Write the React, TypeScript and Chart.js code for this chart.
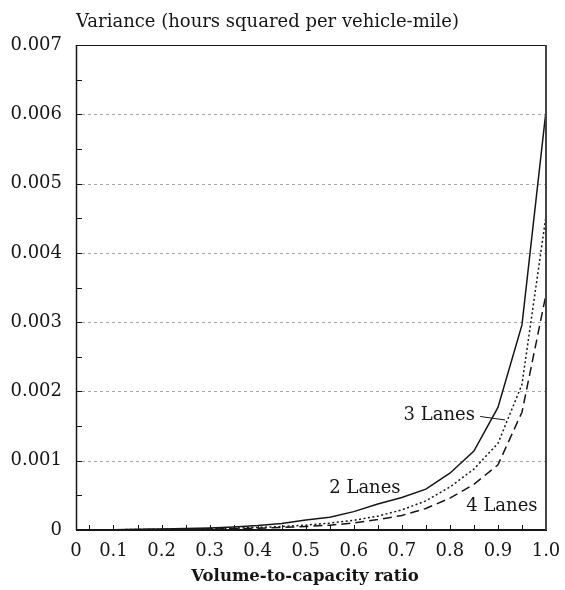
import React, { useEffect, useRef } from 'react';
import { Chart, registerables } from 'chart.js';

Chart.register(...registerables);

// ---- data ----
const vcRatio = [0.05, 0.1, 0.15, 0.2, 0.25, 0.3, 0.35, 0.4, 0.45, 0.5, 0.55, 0.6, 0.65, 0.7, 0.75, 0.8, 0.85, 0.9, 0.95, 1.0];
const lanes3 = [0.000003, 0.000005, 0.00001, 0.000015, 0.00002, 0.00003, 0.000045, 0.000065, 0.000094, 0.000145, 0.000185, 0.000265, 0.000375, 0.00047, 0.00059, 0.00082, 0.00114, 0.00177, 0.00296, 0.00605];
const lanes2 = [0.000002, 0.000004, 0.000007, 0.00001, 0.000014, 0.00002, 0.000027, 0.000037, 0.00005, 0.00007, 0.0001, 0.00014, 0.0002, 0.00029, 0.00042, 0.00062, 0.00088, 0.00125, 0.0021, 0.00453];
const lanes4 = [0.000001, 0.000003, 0.000005, 0.000007, 0.00001, 0.000014, 0.00002, 0.000027, 0.000037, 0.00005, 0.00007, 0.0001, 0.00015, 0.00021, 0.00031, 0.00046, 0.00066, 0.00094, 0.0017, 0.0034];

const xMin = 0.022;
const xMax = 1.0;
const yMin = 0;
const yMax = 0.007;
const xTickValues = [0.1, 0.2, 0.3, 0.4, 0.5, 0.6, 0.7, 0.8, 0.9, 1.0];
const xMinorTicks = [0.05, 0.1, 0.15, 0.2, 0.25, 0.3, 0.35, 0.4, 0.45, 0.5, 0.55, 0.6, 0.65, 0.7, 0.75, 0.8, 0.85, 0.9, 0.95];
const yGridValues = [0.001, 0.002, 0.003, 0.004, 0.005, 0.006];
const yMinorTicks = [0.0005, 0.001, 0.0015, 0.002, 0.0025, 0.003, 0.0035, 0.004, 0.0045, 0.005, 0.0055, 0.006, 0.0065];

const yTitle = 'Variance (hours squared per vehicle-mile)';
const xTitle = 'Volume-to-capacity ratio';
const labels = [
  { text: '3 Lanes', x: 0.852, y: 0.00166, align: 'right' },
  { text: '2 Lanes', x: 0.549, y: 0.000606, align: 'left' },
  { text: '4 Lanes', x: 0.834, y: 0.000346, align: 'left' },
];
const leader = { x1: 0.863, y1: 0.001638, x2: 0.915, y2: 0.001588 };

const FONT = '"DejaVu Serif", serif';
const INK = '#161616';

const toPts = (ys: number[]) => vcRatio.map((x, i) => ({ x, y: ys[i] }));

const decorPlugin = {
  id: 'decor',
  beforeDatasetsDraw(chart: any) {
    const { ctx, chartArea, scales } = chart;
    const { left, right } = chartArea;
    const y = scales.y;
    ctx.save();
    ctx.strokeStyle = '#a8a8a8';
    ctx.lineWidth = 1;
    ctx.setLineDash([3, 3]);
    for (const v of yGridValues) {
      const py = Math.round(y.getPixelForValue(v)) + 0.5;
      ctx.beginPath();
      ctx.moveTo(left, py);
      ctx.lineTo(right, py);
      ctx.stroke();
    }
    ctx.restore();
  },
  afterDatasetsDraw(chart: any) {
    const { ctx, chartArea, scales } = chart;
    const { left, right, top, bottom } = chartArea;
    const x = scales.x;
    const y = scales.y;
    ctx.save();
    ctx.strokeStyle = INK;
    ctx.setLineDash([]);
    ctx.lineWidth = 1;
    for (const v of xMinorTicks) {
      const px = Math.round(x.getPixelForValue(v)) + 0.5;
      ctx.beginPath();
      ctx.moveTo(px, bottom);
      ctx.lineTo(px, bottom - 5);
      ctx.stroke();
    }
    for (const v of yMinorTicks) {
      const py = Math.round(y.getPixelForValue(v)) + 0.5;
      ctx.beginPath();
      ctx.moveTo(left, py);
      ctx.lineTo(left + 6, py);
      ctx.stroke();
    }
    ctx.lineWidth = 1;
    ctx.beginPath();
    ctx.moveTo(left, top + 0.5);
    ctx.lineTo(right, top + 0.5);
    ctx.stroke();
    ctx.lineWidth = 1.5;
    ctx.beginPath();
    ctx.moveTo(left + 0.5, top);
    ctx.lineTo(left + 0.5, bottom);
    ctx.stroke();
    ctx.lineWidth = 2;
    ctx.beginPath();
    ctx.moveTo(left, bottom);
    ctx.lineTo(right + 1, bottom);
    ctx.stroke();
    ctx.strokeStyle = '#444';
    ctx.beginPath();
    ctx.moveTo(right, top);
    ctx.lineTo(right, bottom);
    ctx.stroke();
    ctx.restore();
  },
  afterDraw(chart: any) {
    const { ctx, chartArea, scales } = chart;
    const x = scales.x;
    const y = scales.y;
    ctx.save();
    ctx.fillStyle = INK;
    ctx.textBaseline = 'middle';
    ctx.font = `18px ${FONT}`;
    ctx.textAlign = 'left';
    ctx.fillText(yTitle, chartArea.left, 22);
    for (const l of labels) {
      ctx.textAlign = l.align as CanvasTextAlign;
      ctx.fillText(l.text, x.getPixelForValue(l.x), y.getPixelForValue(l.y));
    }
    ctx.strokeStyle = INK;
    ctx.lineWidth = 1;
    ctx.beginPath();
    ctx.moveTo(x.getPixelForValue(leader.x1), y.getPixelForValue(leader.y1));
    ctx.lineTo(x.getPixelForValue(leader.x2), y.getPixelForValue(leader.y2));
    ctx.stroke();
    ctx.font = `bold 16.5px ${FONT}`;
    ctx.textAlign = 'center';
    ctx.fillText(xTitle, (chartArea.left + chartArea.right) / 2 - 6, 577);
    ctx.restore();
  },
};

export default function App() {
  const ref = useRef<HTMLCanvasElement | null>(null);
  useEffect(() => {
    if (!ref.current) return;
    const chart = new Chart(ref.current, {
      type: 'line',
      data: {
        datasets: [
          { label: '3 Lanes', data: toPts(lanes3), borderColor: INK, borderWidth: 1.5, pointRadius: 0, fill: false, tension: 0 },
          { label: '2 Lanes', data: toPts(lanes2), borderColor: INK, borderWidth: 1.5, borderDash: [2, 2.5], pointRadius: 0, fill: false, tension: 0 },
          { label: '4 Lanes', data: toPts(lanes4), borderColor: INK, borderWidth: 1.5, borderDash: [9, 5], pointRadius: 0, fill: false, tension: 0 },
        ],
      },
      options: {
        animation: false,
        responsive: false,
        devicePixelRatio: 1,
        layout: { padding: { top: 45, right: 19, left: 0, bottom: 0 } },
        plugins: { legend: { display: false }, tooltip: { enabled: false }, title: { display: false } },
        scales: {
          x: {
            type: 'linear',
            min: xMin,
            max: xMax,
            grid: { display: false },
            border: { display: false },
            afterBuildTicks: (scale: any) => {
              scale.ticks = [{ value: xMin }, ...xTickValues.map((v) => ({ value: v }))];
            },
            afterFit: (scale: any) => {
              scale.height = 60;
            },
            ticks: {
              autoSkip: false,
              maxRotation: 0,
              padding: 3,
              color: INK,
              font: { family: FONT, size: 18 },
              callback: (v: any) => (Math.abs(v - xMin) < 1e-9 ? '0' : Number(v).toFixed(1)),
            },
          },
          y: {
            type: 'linear',
            min: yMin,
            max: yMax,
            grid: { display: false },
            border: { display: false },
            afterFit: (scale: any) => {
              scale.width = 76;
            },
            ticks: {
              stepSize: 0.001,
              padding: 6,
              color: INK,
              font: { family: FONT, size: 18 },
              callback: (v: any) => (Math.abs(v) < 1e-12 ? '0' : Number(v).toFixed(3)),
            },
          },
        },
      },
      plugins: [decorPlugin],
    });
    return () => chart.destroy();
  }, []);
  return (
    <div style={{ position: 'absolute', left: 0, top: 0, width: 565, height: 590, background: '#fff' }}>
      <canvas ref={ref} width={565} height={590} />
    </div>
  );
}
